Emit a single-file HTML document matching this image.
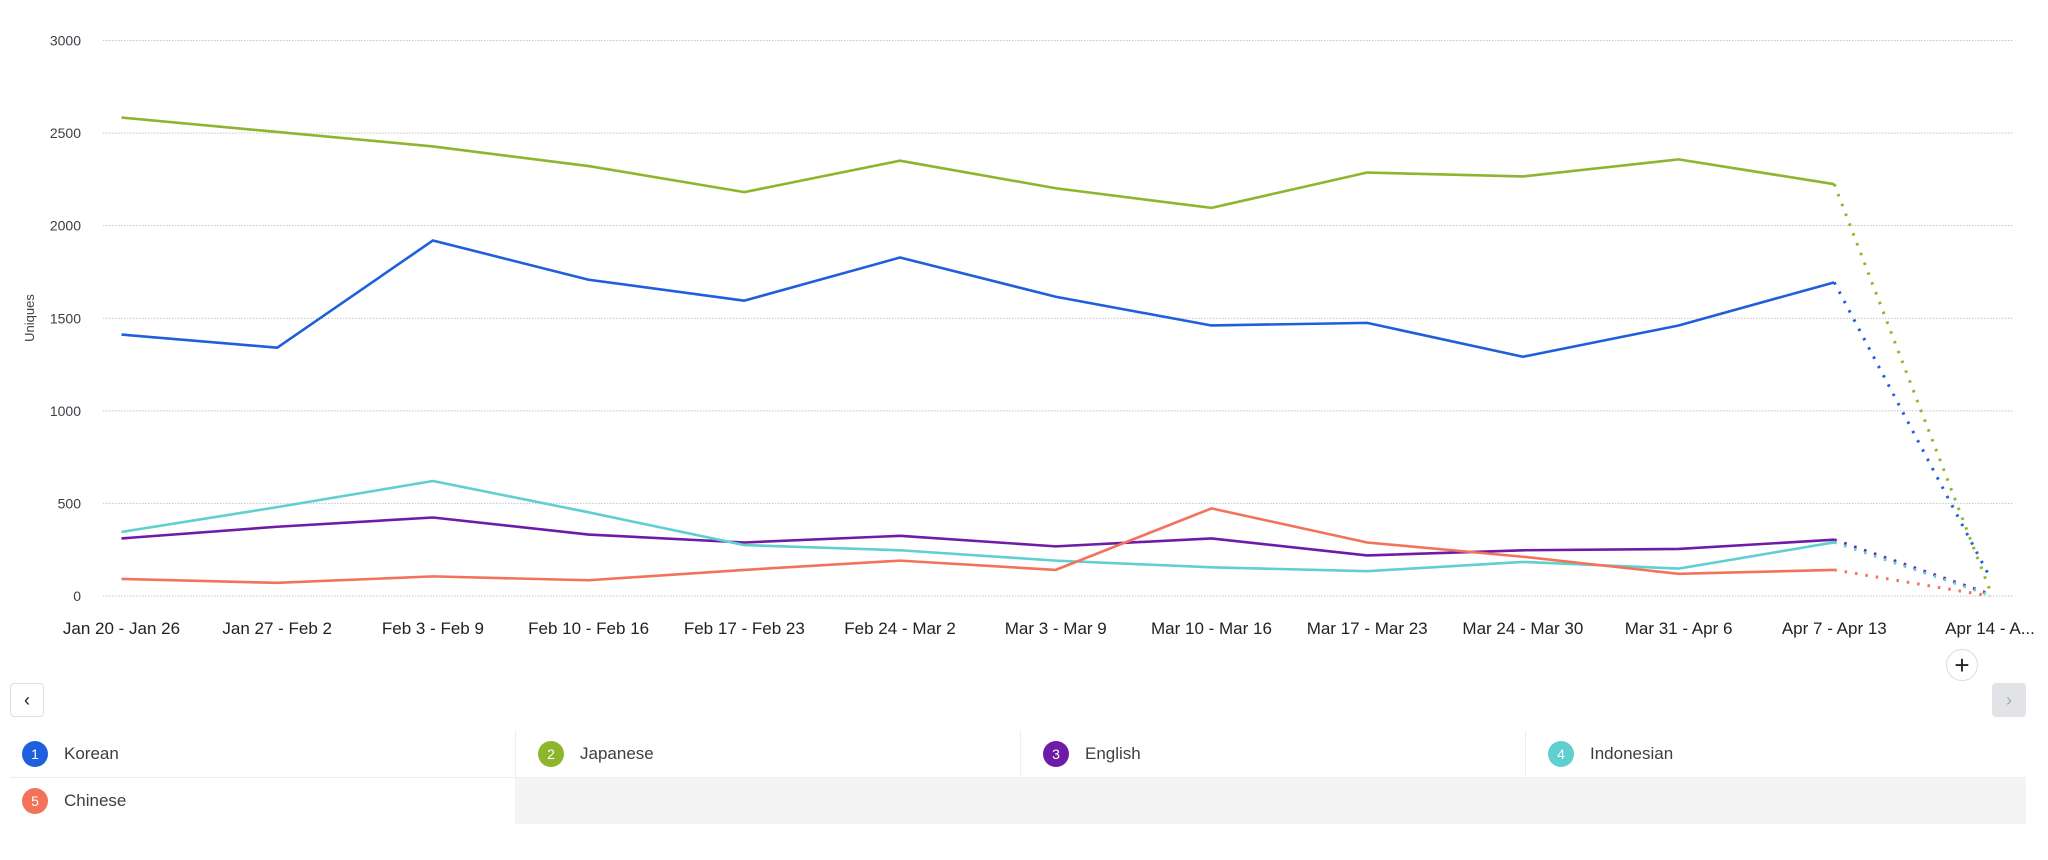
<!DOCTYPE html>
<html><head><meta charset="utf-8">
<style>
html,body{margin:0;padding:0;background:#fff;width:2048px;height:860px;overflow:hidden;font-family:"Liberation Sans",sans-serif;}
.legend-cell{position:absolute;height:46px;display:flex;align-items:center;font-size:17px;color:#3d3d46;box-sizing:border-box;}
.dot{width:26px;height:26px;border-radius:50%;color:#fff;font-size:14px;display:flex;align-items:center;justify-content:center;margin:0 16px 0 22px;}
</style></head><body>
<svg id="chart" width="2048" height="680" style="position:absolute;left:0;top:0" xmlns="http://www.w3.org/2000/svg"></svg>

<div style="position:absolute;left:1946px;top:649px;width:30px;height:30px;border:1px solid #ddd;border-radius:50%;background:#fff;display:flex;align-items:center;justify-content:center;font-size:26px;color:#222;line-height:1">+</div>
<div style="position:absolute;left:10px;top:683px;width:32px;height:32px;border:1px solid #ddd;border-radius:4px;background:#fff;display:flex;align-items:center;justify-content:center;font-size:18px;color:#222">‹</div>
<div style="position:absolute;left:1992px;top:683px;width:34px;height:34px;border-radius:4px;background:#e2e3e6;display:flex;align-items:center;justify-content:center;font-size:18px;color:#aaa">›</div>

<div>
<div style="position:absolute;left:10px;top:777px;width:2016px;height:1px;background:#eee"></div>
<div style="position:absolute;left:515px;top:778px;width:1511px;height:46px;background:#f4f4f4"></div>
<div class="legend-cell" style="left:0;top:731px;width:515px;"><div class="dot" style="background:#1f5fdc">1</div>Korean</div>
<div class="legend-cell" style="left:515px;top:731px;width:505px;border-left:1px solid #eee"><div class="dot" style="background:#8db52e">2</div>Japanese</div>
<div class="legend-cell" style="left:1020px;top:731px;width:505px;border-left:1px solid #eee"><div class="dot" style="background:#6e1ba8">3</div>English</div>
<div class="legend-cell" style="left:1525px;top:731px;width:501px;border-left:1px solid #eee"><div class="dot" style="background:#5fcfd0">4</div>Indonesian</div>
<div class="legend-cell" style="left:0;top:778px;width:515px;"><div class="dot" style="background:#f2735a">5</div>Chinese</div>
</div>

<script>
const categories = ["Jan 20 - Jan 26","Jan 27 - Feb 2","Feb 3 - Feb 9","Feb 10 - Feb 16","Feb 17 - Feb 23","Feb 24 - Mar 2","Mar 3 - Mar 9","Mar 10 - Mar 16","Mar 17 - Mar 23","Mar 24 - Mar 30","Mar 31 - Apr 6","Apr 7 - Apr 13","Apr 14 - A..."];
const yTicks = [0,500,1000,1500,2000,2500,3000];
const korean = [1412,1341,1920,1708,1595,1828,1616,1461,1475,1292,1461,1694,100];
const japanese = [2584,2506,2428,2322,2181,2351,2202,2096,2287,2266,2358,2224,30];
const english = [311,374,424,332,289,325,268,311,219,247,254,304,10];
const indonesian = [346,480,621,452,275,247,191,155,134,184,148,290,5];
const chinese = [92,71,106,85,141,191,141,473,289,212,120,141,0];
const seriesNames = ["japanese","korean","english","indonesian","chinese"];
const seriesData = [japanese,korean,english,indonesian,chinese];
const seriesColors = ["#8db52e","#1f5fdc","#6e1ba8","#5fcfd0","#f2735a"];

const NS="http://www.w3.org/2000/svg";
const svg=document.getElementById('chart');
const x0=121.5, dx=(1990-121.5)/12, yBase=596, yTop=40.5, yMax=3000;
function xs(i){return x0+i*dx;}
function ys(v){return yBase-(v/yMax)*(yBase-yTop);}
function mk(tag,attrs){const e=document.createElementNS(NS,tag);for(const k in attrs)e.setAttribute(k,attrs[k]);svg.appendChild(e);return e;}

yTicks.forEach(t=>{
  const l=mk('line',{x1:103,x2:2013,y1:ys(t),y2:ys(t),stroke:'#c4c4cc','stroke-width':1,'stroke-dasharray':'1.5 1.5'});
  
  
  const tx=mk('text',{x:81,y:ys(t)+5,'text-anchor':'end','font-size':14,fill:'#3d3d46'});
  tx.textContent=t;
  
  
});
const yt=mk('text',{x:0,y:0,'text-anchor':'middle','font-size':13,fill:'#3d3d46',transform:'translate(34,318) rotate(-90)'});
yt.textContent='Uniques';



categories.forEach((c,i)=>{
  const tx=mk('text',{x:xs(i),y:634,'text-anchor':'middle','font-size':17,fill:'#222'});
  tx.textContent=c;
  
  
});

seriesData.forEach((d,s)=>{
  const n=d.length;
  const pts=d.slice(0,n-1).map((v,i)=>xs(i)+','+ys(v)).join(' ');
  const pl=mk('polyline',{points:pts,fill:'none',stroke:seriesColors[s],'stroke-width':2.6,'stroke-linejoin':'round'});
  
  
  const dl=mk('line',{x1:xs(n-2),y1:ys(d[n-2]),x2:xs(n-1),y2:ys(d[n-1]),stroke:seriesColors[s],'stroke-width':3,'stroke-dasharray':'2.5 8'});
  
  
});
</script>
</body></html>
